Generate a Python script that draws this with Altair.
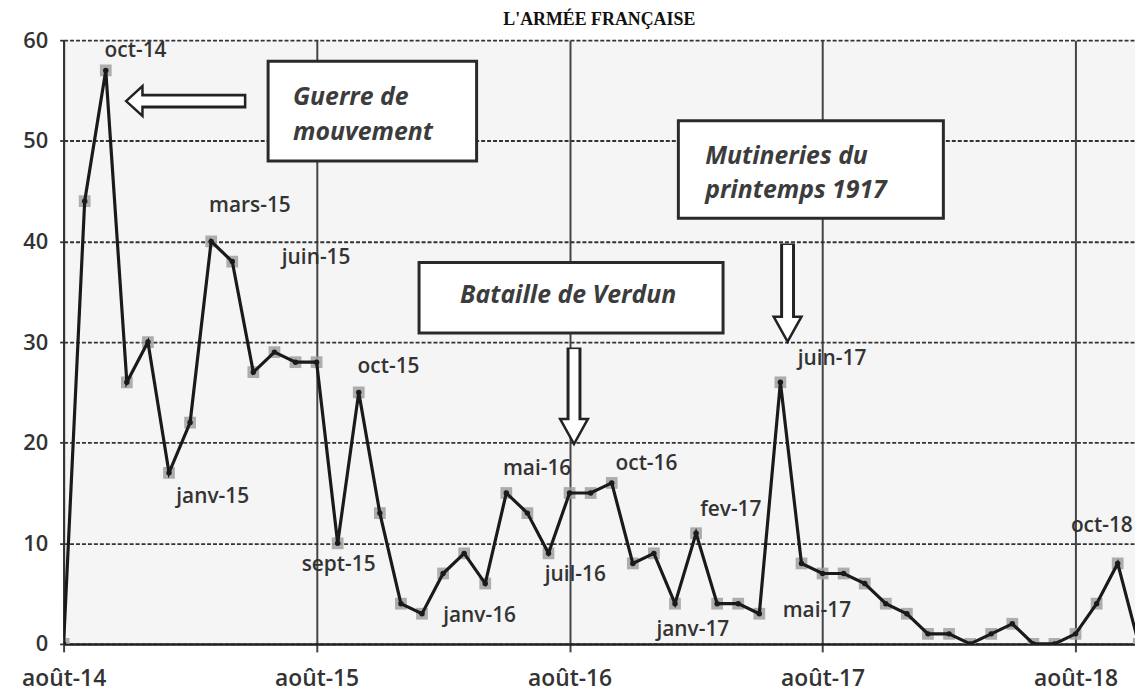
import altair as alt
import pandas as pd

# ---------------- data ----------------
months = ["août-14", "sept-14", "oct-14", "nov-14", "déc-14", "janv-15", "fev-15", "mars-15", "avr-15", "mai-15", "juin-15", "juil-15",
          "août-15", "sept-15", "oct-15", "nov-15", "déc-15", "janv-16", "fev-16", "mars-16", "avr-16", "mai-16", "juin-16", "juil-16",
          "août-16", "sept-16", "oct-16", "nov-16", "déc-16", "janv-17", "fev-17", "mars-17", "avr-17", "mai-17", "juin-17", "juil-17",
          "août-17", "sept-17", "oct-17", "nov-17", "déc-17", "janv-18", "fev-18", "mars-18", "avr-18", "mai-18", "juin-18", "juil-18",
          "août-18", "sept-18", "oct-18", "nov-18"]
values = [0, 44, 57, 26, 30, 17, 22, 40, 38, 27, 29, 28,
          28, 10, 25, 13, 4, 3, 7, 9, 6, 15, 13, 9,
          15, 15, 16, 8, 9, 4, 11, 4, 4, 3, 26, 8,
          7, 7, 6, 4, 3, 1, 1, 0, 1, 2, 0, 0,
          1, 4, 8, 0]

x_tick_values = [0, 12, 24, 36, 48]
x_tick_labels = ["août-14", "août-15", "août-16", "août-17", "août-18"]
y_tick_values = [0, 10, 20, 30, 40, 50, 60]

labelled_months = ["oct-14", "janv-15", "mars-15", "juin-15", "sept-15", "oct-15", "janv-16", "mai-16",
                   "juil-16", "oct-16", "janv-17", "fev-17", "mai-17", "juin-17", "oct-18"]

title_text = "L'ARMÉE FRANÇAISE"

# annotation texts
box_lines = ["Guerre de", "mouvement", "Bataille de Verdun", "Mutineries du", "printemps 1917"]

# ---------------- styles / annotation geometry (data units) ----------------
label_dx = [30, 44, 39, 42, 1, 30, 58, 31, 27, 35, 18, 35, 58, 52, -16]
label_dy = [-19, 24, -36, -95, 22, -26, 2, -24, 22, -19, 27, -23, -3, -23, -38]

boxes = pd.DataFrame({
    "x": [9.70, 16.86, 29.16], "x2": [19.59, 31.28, 41.73],
    "y": [48.0, 30.9, 42.3], "y2": [57.9, 37.9, 52.0],
})
box_text_x = [10.88, 10.88, 23.93, 30.43, 30.43]
box_text_y = [54.3, 50.9, 34.7, 48.5, 45.1]
box_text_align = ["left", "left", "center", "left", "left"]

shaft_black = pd.DataFrame({"x": [8.67, 24.21, 34.34], "x2": [3.74, 24.21, 34.34],
                            "y": [53.95, 29.45, 39.8], "y2": [53.95, 22.3, 32.5]})
shaft_white = pd.DataFrame({"x": [8.55, 24.21, 34.34], "x2": [3.46, 24.21, 34.34],
                            "y": [53.95, 29.3, 39.65], "y2": [53.95, 21.6, 31.8]})
head_left = pd.DataFrame({"x": [3.67], "y": [53.95]})
head_down = pd.DataFrame({"x": [24.21, 34.34], "y": [21.25, 31.42]})

# ---------------- chart ----------------
df = pd.DataFrame({"x": list(range(len(values))), "y": values, "month": months})

label_expr = "[" + ",".join("'" + t + "'" for t in x_tick_labels) + "][floor(datum.value / 12)]"

X_DOMAIN = [0, 50.82]
LABEL_FONT = "Open Sans"
TEXT_COLOR = "#333333"

x_main = alt.X("x:Q", scale=alt.Scale(domain=X_DOMAIN, nice=False, zero=False),
               axis=alt.Axis(values=x_tick_values, labelExpr=label_expr, title=None,
                             grid=True, gridColor="#444444", gridWidth=2, gridDash=[],
                             tickSize=8, tickColor="#444444", tickWidth=2,
                             domainColor="#222222", domainWidth=2.5,
                             labelFont=LABEL_FONT, labelFontSize=23, labelFontWeight=600,
                             labelColor=TEXT_COLOR, labelPadding=16, labelFlush=False))
y_main = alt.Y("y:Q", scale=alt.Scale(domain=[0, 60], nice=False),
               axis=alt.Axis(values=y_tick_values, title=None,
                             grid=True, gridColor="#333333", gridWidth=1.8, gridDash=[4, 2],
                             tickSize=6, tickColor="#333333", tickWidth=1.8, tickDash=[4, 2],
                             domainColor="#333333", domainWidth=2,
                             labelFont=LABEL_FONT, labelFontSize=22, labelFontWeight=600,
                             labelColor=TEXT_COLOR, labelPadding=10))
X = alt.X("x:Q")
Y = alt.Y("y:Q")

base = alt.Chart(df)

squares = base.mark_point(shape="square", filled=True, color="#a0a0a0", size=140, opacity=0.85,
                          clip=True).encode(x=x_main, y=y_main)
line = base.mark_line(color="#1a1a1a", strokeWidth=3.2, clip=True).encode(x=X, y=Y)
dots = base.mark_circle(color="#1a1a1a", size=30, opacity=1, clip=True).encode(x=X, y=Y)

box_layer = alt.Chart(boxes).mark_rect(fill="white", stroke="#2a2a2a", strokeWidth=3).encode(
    x=X, x2="x2:Q", y=Y, y2="y2:Q")

label_layers = []
for m, dx, dy in zip(labelled_months, label_dx, label_dy):
    label_layers.append(
        base.transform_filter(alt.datum.month == m).mark_text(
            dx=dx, dy=dy, font=LABEL_FONT, fontSize=21, fontWeight=600, color=TEXT_COLOR
        ).encode(x=X, y=Y, text="month:N")
    )

shaft_b = alt.Chart(shaft_black).mark_rule(color="#222222", strokeWidth=15, strokeCap="butt").encode(
    x=X, x2="x2:Q", y=Y, y2="y2:Q")
heads_l = alt.Chart(head_left).mark_point(shape="M -1 0 L 0.1 -1 L 0.1 1 Z", filled=True, fill="white",
                                          stroke="#222222", strokeWidth=2.5, size=900, opacity=1).encode(x=X, y=Y)
heads_d = alt.Chart(head_down).mark_point(shape="M 0 1 L -1 -0.8 L 1 -0.8 Z", filled=True, fill="white",
                                          stroke="#222222", strokeWidth=2.5, size=784, opacity=1).encode(x=X, y=Y)
shaft_w = alt.Chart(shaft_white).mark_rule(color="white", strokeWidth=9, strokeCap="butt").encode(
    x=X, x2="x2:Q", y=Y, y2="y2:Q")

box_text_layers = []
for t, tx, ty, al in zip(box_lines, box_text_x, box_text_y, box_text_align):
    box_text_layers.append(
        alt.Chart(pd.DataFrame({"x": [tx], "y": [ty], "t": [t]})).mark_text(
            align=al, baseline="middle", font=LABEL_FONT, fontSize=25, fontStyle="italic",
            fontWeight="bold", color="#3c3c3c"
        ).encode(x=X, y=Y, text="t:N")
    )

chart = alt.layer(
    squares, box_layer, line, dots, *label_layers, shaft_b, heads_l, heads_d, shaft_w, *box_text_layers
).properties(
    width=1079, height=608,
    padding={"left": 56, "top": 30, "right": 0, "bottom": 46},
    autosize=alt.AutoSizeParams(type="none"),
    title=alt.TitleParams(title_text, font="Liberation Serif", fontSize=18, fontWeight="bold",
                          color="#111111", offset=0, anchor="middle"),
    background="white",
).configure_view(stroke=None, fill="#f5f5f5")

chart.save("out.html", embed_options={"renderer": "svg", "actions": False})
